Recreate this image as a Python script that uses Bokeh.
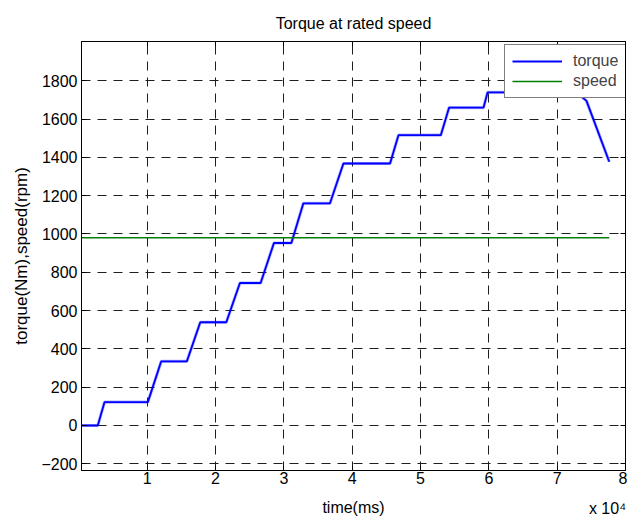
from bokeh.plotting import figure
from bokeh.models import Range1d, LinearAxis, FixedTicker, Legend, LegendItem
from bokeh.embed import file_html
from bokeh.resources import INLINE

# ---- data ----
time_ms = [380, 2763, 3745, 10088, 12051, 15802, 17765, 21574, 23566, 26598,
           28547, 31096, 32854, 36751, 38714, 45541, 46772, 52968, 54184, 59224,
           59810, 71500, 73300, 74290, 77620]
torque = [0, 0, 122, 122, 335, 335, 539, 539, 744, 744,
          953, 953, 1160, 1160, 1368, 1368, 1516, 1516, 1660, 1660,
          1739, 1739, 1725, 1695, 1377]
speed_time = [380, 77620]
speed = [980, 980]

x_ticks = [10000, 20000, 30000, 40000, 50000, 60000, 70000, 80000]
x_tick_labels = ["1", "2", "3", "4", "5", "6", "7", "8"]
y_ticks = [-200, 0, 200, 400, 600, 800, 1000, 1200, 1400, 1600, 1800]
series_names = ["torque", "speed"]
title_text = "Torque at rated speed"
x_label = "time(ms)"
y_label = "torque(Nm),speed(rpm)"
exp_text = "x 10\u2074"
exp_pos = 77360          # where the exponent note is centred along the time axis

FONT = "Liberation Sans"
GRID = "#1e1e1e"

p = figure(width=627, height=521, output_backend="svg", toolbar_location=None,
           x_range=Range1d(380, 80000), y_range=Range1d(-235, 2005),
           min_border_left=81, min_border_right=2, min_border_top=41,
           min_border_bottom=51, title=title_text)
p.background_fill_color = "white"
p.border_fill_color = "white"
p.outline_line_color = "black"
p.outline_line_width = 1

p.title.align = "center"
p.title.text_font = FONT
p.title.text_font_size = "16px"
p.title.text_font_style = "normal"
p.title.text_color = "black"
p.title.standoff = 19

xt = FixedTicker(ticks=x_ticks)
yt = FixedTicker(ticks=y_ticks)

xa = p.xaxis[0]
xa.ticker = xt
xa.major_label_overrides = {t: l for t, l in zip(x_ticks, x_tick_labels)}
ya = p.yaxis[0]
ya.ticker = yt
ya.axis_label = y_label

for ax in (xa, ya):
    ax.axis_line_color = "black"
    ax.major_tick_line_color = "black"
    ax.major_tick_in = 5
    ax.major_tick_out = 0
    ax.minor_tick_line_color = None
    ax.major_label_text_font = FONT
    ax.major_label_text_font_size = "16px"
    ax.major_label_text_color = "black"
    ax.axis_label_text_font = FONT
    ax.axis_label_text_font_size = "16px"
    ax.axis_label_text_font_style = "normal"
    ax.axis_label_text_color = "black"
xa.major_label_standoff = 1
ya.major_label_standoff = 4
ya.axis_label_text_font_size = "17px"
ya.axis_label_standoff = 7

# second bottom axis: carries the "time(ms)" label and the "x 10^4" note
xb = LinearAxis(ticker=FixedTicker(ticks=[exp_pos]),
                major_label_overrides={exp_pos: exp_text},
                axis_line_color=None, major_tick_line_color=None,
                minor_tick_line_color=None, major_tick_in=0, major_tick_out=0,
                major_label_standoff=13,
                major_label_text_font=FONT, major_label_text_font_size="16px",
                major_label_text_color="black",
                axis_label=x_label, axis_label_standoff=-21,
                axis_label_text_font=FONT, axis_label_text_font_size="16px",
                axis_label_text_font_style="normal", axis_label_text_color="black")
p.add_layout(xb, "below")

for loc, tk in (("above", xt), ("right", yt)):
    ax = LinearAxis(ticker=tk, major_label_text_font_size="1px",
                    major_label_text_color=None,
                    major_label_standoff=0, major_tick_in=5, major_tick_out=0,
                    minor_tick_line_color=None, axis_line_color="black",
                    major_tick_line_color="black")
    p.add_layout(ax, loc)

p.xgrid.ticker = xt
p.ygrid.ticker = yt
for g in (p.xgrid, p.ygrid):
    g.grid_line_color = GRID
    g.grid_line_dash = "9 7"
    g.grid_line_width = 1

# data lines
p.line(time_ms, torque, line_color="#0000ff", line_width=3.2, line_alpha=0.3)
rt = p.line(time_ms, torque, line_color="#0000ff", line_width=1.8)
rs = p.line(speed_time, speed, line_color="#008000", line_width=1.4)

legend = Legend(items=[LegendItem(label=series_names[0], renderers=[rt]),
                       LegendItem(label=series_names[1], renderers=[rs])],
                location=(423, 372), margin=0, padding=7, spacing=2,
                glyph_width=50, glyph_height=18, label_height=18, label_width=46,
                label_standoff=11, label_text_font=FONT, label_text_font_size="16px",
                border_line_color="black", border_line_width=1,
                background_fill_color="white", background_fill_alpha=1)
p.add_layout(legend)

open("out.html", "w").write(file_html(p, INLINE))
